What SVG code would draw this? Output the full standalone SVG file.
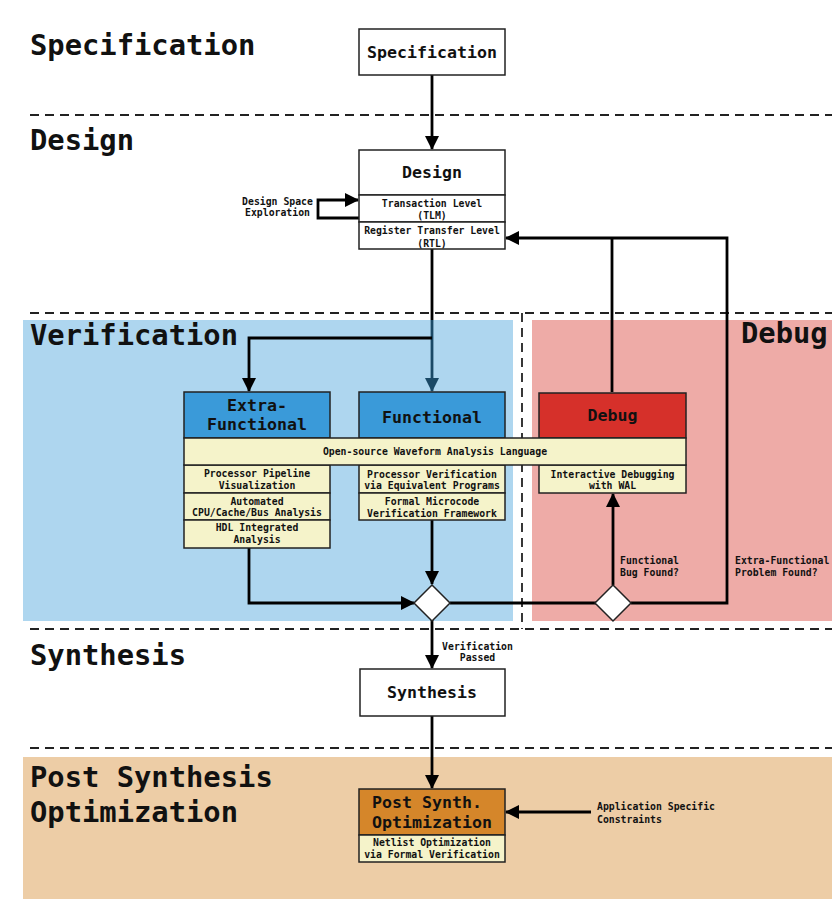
<svg xmlns="http://www.w3.org/2000/svg" width="832" height="899" viewBox="0 0 832 899">
<defs>
<style>
text{font-family:"DejaVu Sans Mono","Liberation Mono",monospace;font-weight:bold;fill:#111}
.t{font-size:28.8px}
.h{font-size:16.6px;text-anchor:middle}
.s{font-size:9.8px;text-anchor:middle}
.l{font-size:9.8px}
.box{fill:#fff;stroke:#222;stroke-width:1.5}
.blue{fill:#3A9AD9;stroke:#222;stroke-width:1.5}
.red{fill:#D6302A;stroke:#222;stroke-width:1.5}
.org{fill:#D5862A;stroke:#222;stroke-width:1.5}
.yel{fill:#F5F3CA;stroke:#222;stroke-width:1.5}
.dash{stroke:#222;stroke-width:1.8;stroke-dasharray:9 6;fill:none}
.c{fill:none;stroke:#000;stroke-width:2.8}
.dia{fill:#fff;stroke:#222;stroke-width:1.5}
</style>
<marker id="arr" viewBox="0 0 14 14" refX="13" refY="7" markerWidth="14" markerHeight="14" orient="auto" markerUnits="userSpaceOnUse"><path d="M0,0 L14,7 L0,14 z" fill="#000"/></marker>
<marker id="arrb" viewBox="0 0 14 14" refX="13" refY="7" markerWidth="14" markerHeight="14" orient="auto" markerUnits="userSpaceOnUse"><path d="M0,0 L14,7 L0,14 z" fill="#1A4966"/></marker>
</defs>

<g id="backgrounds">
<rect x="23" y="320" width="490" height="301" fill="#AED6EF"/>
<rect x="532" y="320" width="300" height="301" fill="#EEABA7"/>
<rect x="23" y="757" width="809" height="142" fill="#EDCDA6"/>
<line class="dash" x1="30" y1="115" x2="832" y2="115"/>
<line class="dash" x1="30" y1="313" x2="832" y2="313"/>
<line class="dash" x1="30" y1="629" x2="832" y2="629"/>
<line class="dash" x1="30" y1="748" x2="832" y2="748"/>
<line class="dash" x1="522" y1="313" x2="522" y2="629"/>
</g>

<g id="lane-titles">
<text class="t" x="30" y="55">Specification</text>
<text class="t" x="30" y="150">Design</text>
<text class="t" x="30" y="345">Verification</text>
<text class="t" x="741" y="343">Debug</text>
<text class="t" x="30" y="665">Synthesis</text>
<text class="t" x="30" y="787">Post Synthesis</text>
<text class="t" x="30" y="822">Optimization</text>
</g>

<g id="connectors">
<line class="c" x1="432" y1="75" x2="432" y2="149" marker-end="url(#arr)"/>
<polyline class="c" points="359,218 318,218 318,200 358,200" marker-end="url(#arr)"/>
<line class="c" x1="432" y1="249" x2="432" y2="320"/>
<line class="c" x1="432" y1="320" x2="432" y2="391" style="stroke:#1A4966" marker-end="url(#arrb)"/>
<polyline class="c" points="432,338 249,338 249,391" marker-end="url(#arr)"/>
<polyline class="c" points="249,548 249,603 414,603" marker-end="url(#arr)"/>
<line class="c" x1="432" y1="520" x2="432" y2="584" marker-end="url(#arr)"/>
<line class="c" x1="450" y1="603" x2="596" y2="603"/>
<line class="c" x1="613" y1="585" x2="613" y2="494" marker-end="url(#arr)"/>
<line class="c" x1="612" y1="392" x2="612" y2="238"/>
<polyline class="c" points="631,603 727,603 727,238 506,238" marker-end="url(#arr)"/>
<line class="c" x1="432" y1="620" x2="432" y2="668" marker-end="url(#arr)"/>
<line class="c" x1="432" y1="716" x2="432" y2="788" marker-end="url(#arr)"/>
<line class="c" x1="591" y1="812" x2="506" y2="812" marker-end="url(#arr)"/>
<text class="s" x="277.5" y="204.5">Design Space</text>
<text class="s" x="277.5" y="215.5">Exploration</text>
<text class="s" x="477.5" y="649.5">Verification</text>
<text class="s" x="477.5" y="660.5">Passed</text>
<text class="l" x="620" y="563.5">Functional</text>
<text class="l" x="620" y="575.5">Bug Found?</text>
<text class="l" x="735" y="563.5">Extra-Functional</text>
<text class="l" x="735" y="575.5">Problem Found?</text>
<text class="l" x="597" y="810">Application Specific</text>
<text class="l" x="597" y="822.5">Constraints</text>
</g>

<g id="specification">
<rect class="box" x="359" y="29" width="146" height="46"/>
<text class="h" x="432" y="57.5">Specification</text>
</g>

<g id="design">
<rect class="box" x="359" y="150" width="146" height="45"/>
<text class="h" x="432" y="177.5">Design</text>
<rect class="box" x="359" y="195" width="146" height="27"/>
<text class="s" x="432" y="206.5">Transaction Level</text>
<text class="s" x="432" y="219">(TLM)</text>
<rect class="box" x="359" y="222" width="146" height="27"/>
<text class="s" x="432" y="234">Register Transfer Level</text>
<text class="s" x="432" y="246.5">(RTL)</text>
</g>

<g id="extra-functional">
<rect class="blue" x="184" y="392" width="146" height="46"/>
<text class="h" x="257" y="410.5">Extra-</text>
<text class="h" x="257" y="430">Functional</text>
<rect class="yel" x="184" y="465" width="146" height="28"/>
<text class="s" x="257" y="476.5">Processor Pipeline</text>
<text class="s" x="257" y="488.5">Visualization</text>
<rect class="yel" x="184" y="493" width="146" height="27"/>
<text class="s" x="257" y="504.5">Automated</text>
<text class="s" x="257" y="516">CPU/Cache/Bus Analysis</text>
<rect class="yel" x="184" y="520" width="146" height="28"/>
<text class="s" x="257" y="530.5">HDL Integrated</text>
<text class="s" x="257" y="542.5">Analysis</text>
</g>

<g id="functional">
<rect class="blue" x="359" y="392" width="146" height="46"/>
<text class="h" x="432" y="422.5">Functional</text>
<rect class="yel" x="359" y="465" width="146" height="28"/>
<text class="s" x="432" y="477.5">Processor Verification</text>
<text class="s" x="432" y="489">via Equivalent Programs</text>
<rect class="yel" x="359" y="493" width="146" height="27"/>
<text class="s" x="432" y="504.5">Formal Microcode</text>
<text class="s" x="432" y="516.5">Verification Framework</text>
</g>

<g id="debug">
<rect class="red" x="539" y="393" width="147" height="45"/>
<text class="h" x="612.5" y="421">Debug</text>
<rect class="yel" x="539" y="465" width="147" height="28"/>
<text class="s" x="612.5" y="477.5">Interactive Debugging</text>
<text class="s" x="612.5" y="489">with WAL</text>
</g>

<g id="wal">
<rect class="yel" x="184" y="438" width="502" height="27"/>
<text class="s" x="435" y="455">Open-source Waveform Analysis Language</text>
</g>

<g id="merge-diamond">
<polygon class="dia" points="432,585 450,603 432,621 414,603"/>
</g>

<g id="debug-diamond">
<polygon class="dia" points="613,585 631,603 613,621 595,603"/>
</g>

<g id="synthesis">
<rect class="box" x="360" y="669" width="145" height="47"/>
<text class="h" x="432" y="697.5">Synthesis</text>
</g>

<g id="post-synthesis">
<rect class="org" x="359" y="789" width="146" height="46"/>
<text class="h" x="372" y="807.5" style="text-anchor:start">Post Synth.</text>
<text class="h" x="372" y="827.5" style="text-anchor:start">Optimization</text>
<rect class="yel" x="359" y="835" width="146" height="27"/>
<text class="s" x="432" y="845.8">Netlist Optimization</text>
<text class="s" x="432" y="857.8">via Formal Verification</text>
</g>
</svg>
